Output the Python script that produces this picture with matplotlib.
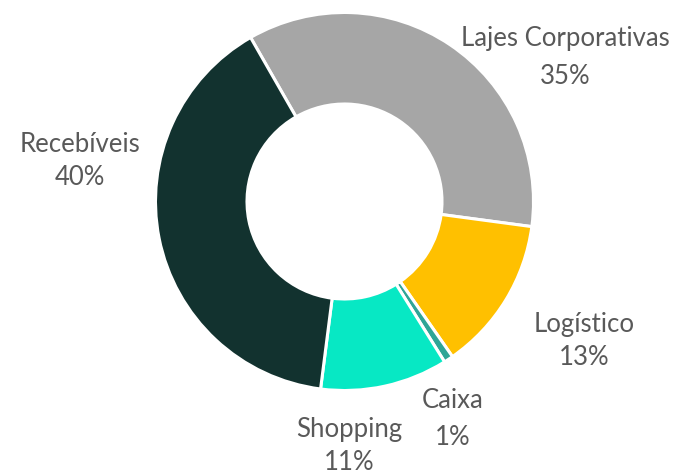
import matplotlib
matplotlib.use("Agg")
import matplotlib.pyplot as plt

# dados
categorias = ["Lajes Corporativas", "Logístico", "Caixa", "Shopping", "Recebíveis"]
valores = [35.4, 13.2, 0.8, 10.9, 39.7]
cores = ["#A6A6A6", "#FFC000", "#2EA596", "#07E8C4", "#12322F"]

# rotulos: x do centro e linhas de base das duas linhas (pixels da figura)
rotulo_px = [(565, 46, 84), (584, 332, 365), (453, 408, 445),
             (349, 437, 470), (80, 152, 185)]

W, H = 678, 474
cx, cy, R = 344.5, 201.5, 189

fig = plt.figure(figsize=(W / 100, H / 100), dpi=100)
ax = fig.add_axes([(cx - R) / W, (H - cy - R) / H, 2 * R / W, 2 * R / H])

ax.pie(valores, colors=cores, startangle=119.8, counterclock=False,
       radius=1, wedgeprops=dict(width=1 - 97.5 / R, edgecolor="white", linewidth=2.2))
ax.set_xlim(-1, 1)
ax.set_ylim(-1, 1)
ax.set_aspect("equal")
ax.axis("off")

for nome, v, (px, y1, y2) in zip(categorias, valores, rotulo_px):
    x = (px - cx) / R
    ax.text(x, (cy - y1) / R, nome, ha="center", va="baseline",
            fontsize=18.5, color="#595959", family="Lato")
    ax.text(x, (cy - y2) / R, "%.0f%%" % v, ha="center", va="baseline",
            fontsize=18.5, color="#595959", family="Lato")

fig.savefig("out.png", dpi=100)
